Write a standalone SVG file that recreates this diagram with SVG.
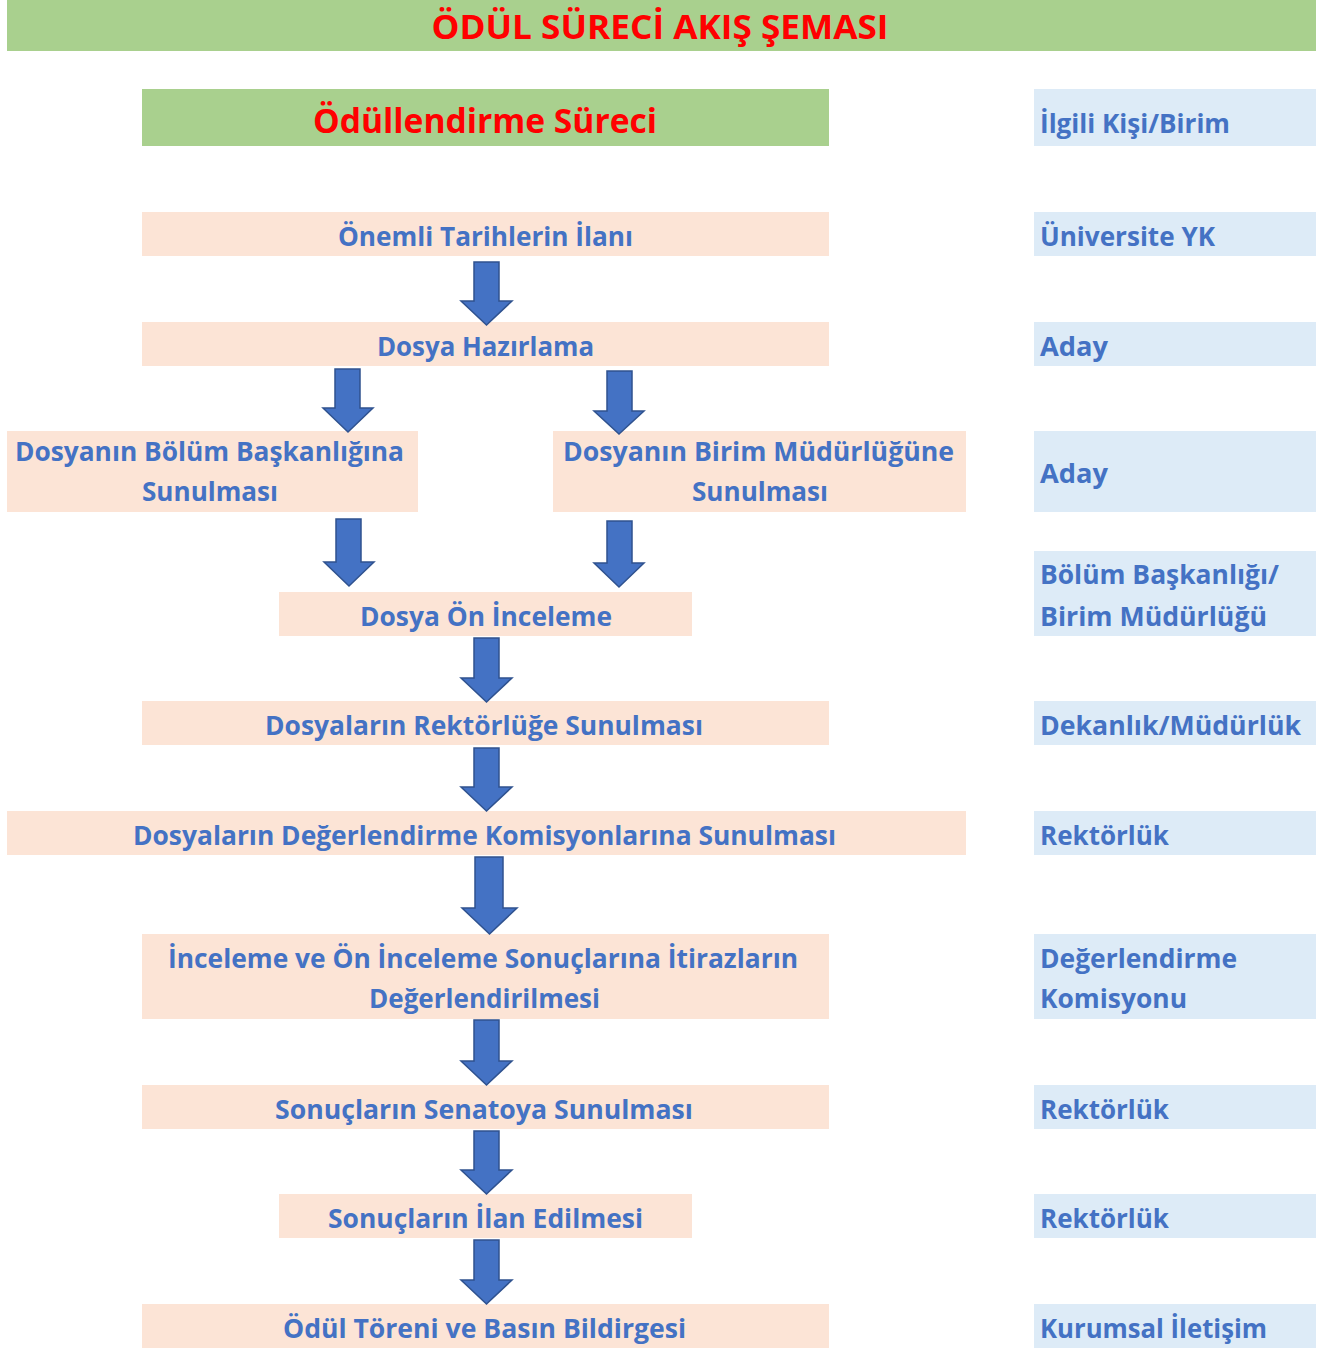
<svg xmlns="http://www.w3.org/2000/svg" width="1331" height="1349" viewBox="0 0 1331 1349">
<style>
text{font-family:"Open Sans","Liberation Sans",sans-serif;font-weight:bold;}
.g{fill:#A9D08E;}
.p{fill:#FCE4D6;}
.b{fill:#DDEBF7;}
.red{fill:#FF0000;}
.t{fill:#4472C4;font-size:27px;}
.c{text-anchor:middle;}
.arr{fill:#4472C4;stroke:#2F528F;stroke-width:1.5;stroke-linejoin:miter;}
</style>
<rect width="1331" height="1349" fill="#FFFFFF"/>
<g id="title">
<rect class="g" x="7" y="0" width="1309" height="51"/>
<text class="red c" x="660" y="39" font-size="34" textLength="457" lengthAdjust="spacingAndGlyphs">ÖDÜL SÜRECİ AKIŞ ŞEMASI</text>
</g>
<g id="header">
<rect class="g" x="142" y="89" width="687" height="57"/>
<text class="red c" x="485" y="133" font-size="34" textLength="344" lengthAdjust="spacingAndGlyphs">Ödüllendirme Süreci</text>
</g>
<g id="n1"><rect class="p" x="142" y="212" width="687" height="44"/><text class="t c" x="485.5" y="246" textLength="295" lengthAdjust="spacingAndGlyphs">Önemli Tarihlerin İlanı</text></g>
<g id="n2"><rect class="p" x="142" y="322" width="687" height="44"/><text class="t c" x="485.5" y="356" textLength="217" lengthAdjust="spacingAndGlyphs">Dosya Hazırlama</text></g>
<g id="n3"><rect class="p" x="7" y="431" width="411" height="81"/><text class="t c" x="209.5" y="461" textLength="389" lengthAdjust="spacingAndGlyphs">Dosyanın Bölüm Başkanlığına</text><text class="t c" x="210" y="501" textLength="136" lengthAdjust="spacingAndGlyphs">Sunulması</text></g>
<g id="n4"><rect class="p" x="553" y="431" width="413" height="81"/><text class="t c" x="758.5" y="461" textLength="391" lengthAdjust="spacingAndGlyphs">Dosyanın Birim Müdürlüğüne</text><text class="t c" x="760" y="501" textLength="136" lengthAdjust="spacingAndGlyphs">Sunulması</text></g>
<g id="n5"><rect class="p" x="279" y="592" width="413" height="44"/><text class="t c" x="486" y="626" textLength="252" lengthAdjust="spacingAndGlyphs">Dosya Ön İnceleme</text></g>
<g id="n6"><rect class="p" x="142" y="701" width="687" height="44"/><text class="t c" x="484" y="735" textLength="438" lengthAdjust="spacingAndGlyphs">Dosyaların Rektörlüğe Sunulması</text></g>
<g id="n7"><rect class="p" x="7" y="811" width="959" height="44"/><text class="t c" x="484.5" y="845" textLength="703" lengthAdjust="spacingAndGlyphs">Dosyaların Değerlendirme Komisyonlarına Sunulması</text></g>
<g id="n8"><rect class="p" x="142" y="934" width="687" height="85"/><text class="t c" x="483" y="968" textLength="630" lengthAdjust="spacingAndGlyphs">İnceleme ve Ön İnceleme Sonuçlarına İtirazların</text><text class="t c" x="484.5" y="1008" textLength="231" lengthAdjust="spacingAndGlyphs">Değerlendirilmesi</text></g>
<g id="n9"><rect class="p" x="142" y="1085" width="687" height="44"/><text class="t c" x="484" y="1119" textLength="418" lengthAdjust="spacingAndGlyphs">Sonuçların Senatoya Sunulması</text></g>
<g id="n10"><rect class="p" x="279" y="1194" width="413" height="44"/><text class="t c" x="485.5" y="1228" textLength="315" lengthAdjust="spacingAndGlyphs">Sonuçların İlan Edilmesi</text></g>
<g id="n11"><rect class="p" x="142" y="1304" width="687" height="44"/><text class="t c" x="484.5" y="1338" textLength="403" lengthAdjust="spacingAndGlyphs">Ödül Töreni ve Basın Bildirgesi</text></g>
<g id="r0"><rect class="b" x="1034" y="89" width="282" height="57"/><text class="t" x="1040" y="133" textLength="190" lengthAdjust="spacingAndGlyphs">İlgili Kişi/Birim</text></g>
<g id="r1"><rect class="b" x="1034" y="212" width="282" height="44"/><text class="t" x="1040" y="246" textLength="175" lengthAdjust="spacingAndGlyphs">Üniversite YK</text></g>
<g id="r2"><rect class="b" x="1034" y="322" width="282" height="44"/><text class="t" x="1040" y="356" textLength="68" lengthAdjust="spacingAndGlyphs">Aday</text></g>
<g id="r3"><rect class="b" x="1034" y="431" width="282" height="81"/><text class="t" x="1040" y="483" textLength="68" lengthAdjust="spacingAndGlyphs">Aday</text></g>
<g id="r4"><rect class="b" x="1034" y="551" width="282" height="85"/><text class="t" x="1040" y="584" textLength="239" lengthAdjust="spacingAndGlyphs">Bölüm Başkanlığı/</text><text class="t" x="1040" y="626" textLength="227" lengthAdjust="spacingAndGlyphs">Birim Müdürlüğü</text></g>
<g id="r5"><rect class="b" x="1034" y="701" width="282" height="44"/><text class="t" x="1040" y="735" textLength="261" lengthAdjust="spacingAndGlyphs">Dekanlık/Müdürlük</text></g>
<g id="r6"><rect class="b" x="1034" y="811" width="282" height="44"/><text class="t" x="1040" y="845" textLength="129" lengthAdjust="spacingAndGlyphs">Rektörlük</text></g>
<g id="r7"><rect class="b" x="1034" y="934" width="282" height="85"/><text class="t" x="1040" y="968" textLength="197" lengthAdjust="spacingAndGlyphs">Değerlendirme</text><text class="t" x="1040" y="1008" textLength="147" lengthAdjust="spacingAndGlyphs">Komisyonu</text></g>
<g id="r8"><rect class="b" x="1034" y="1085" width="282" height="44"/><text class="t" x="1040" y="1119" textLength="129" lengthAdjust="spacingAndGlyphs">Rektörlük</text></g>
<g id="r9"><rect class="b" x="1034" y="1194" width="282" height="44"/><text class="t" x="1040" y="1228" textLength="129" lengthAdjust="spacingAndGlyphs">Rektörlük</text></g>
<g id="r10"><rect class="b" x="1034" y="1304" width="282" height="44"/><text class="t" x="1040" y="1338" textLength="227" lengthAdjust="spacingAndGlyphs">Kurumsal İletişim</text></g>
<g id="connectors">
<polygon class="arr" points="474,262 499,262 499,301 512,301 486.5,325 461,301 474,301"/>
<polygon class="arr" points="335,369 360,369 360,408 373,408 348,432 323,408 335,408"/>
<polygon class="arr" points="607,371 632,371 632,411 644,411 619,434 594,411 607,411"/>
<polygon class="arr" points="336,519 361,519 361,562 374,562 349,586 324,562 336,562"/>
<polygon class="arr" points="607,521 632,521 632,563 644,563 619,587 594,563 607,563"/>
<polygon class="arr" points="474,638 499,638 499,678 512,678 486.5,702 461,678 474,678"/>
<polygon class="arr" points="474,748 499,748 499,787 512,787 486.5,811 461,787 474,787"/>
<polygon class="arr" points="475,857 503,857 503,908 517,908 489.5,934 462,908 475,908"/>
<polygon class="arr" points="474,1020 499,1020 499,1061 512,1061 486.5,1085 461,1061 474,1061"/>
<polygon class="arr" points="474,1131 499,1131 499,1170 512,1170 486.5,1194 461,1170 474,1170"/>
<polygon class="arr" points="474,1240 499,1240 499,1280 512,1280 486.5,1304 461,1280 474,1280"/>
</g>
</svg>
